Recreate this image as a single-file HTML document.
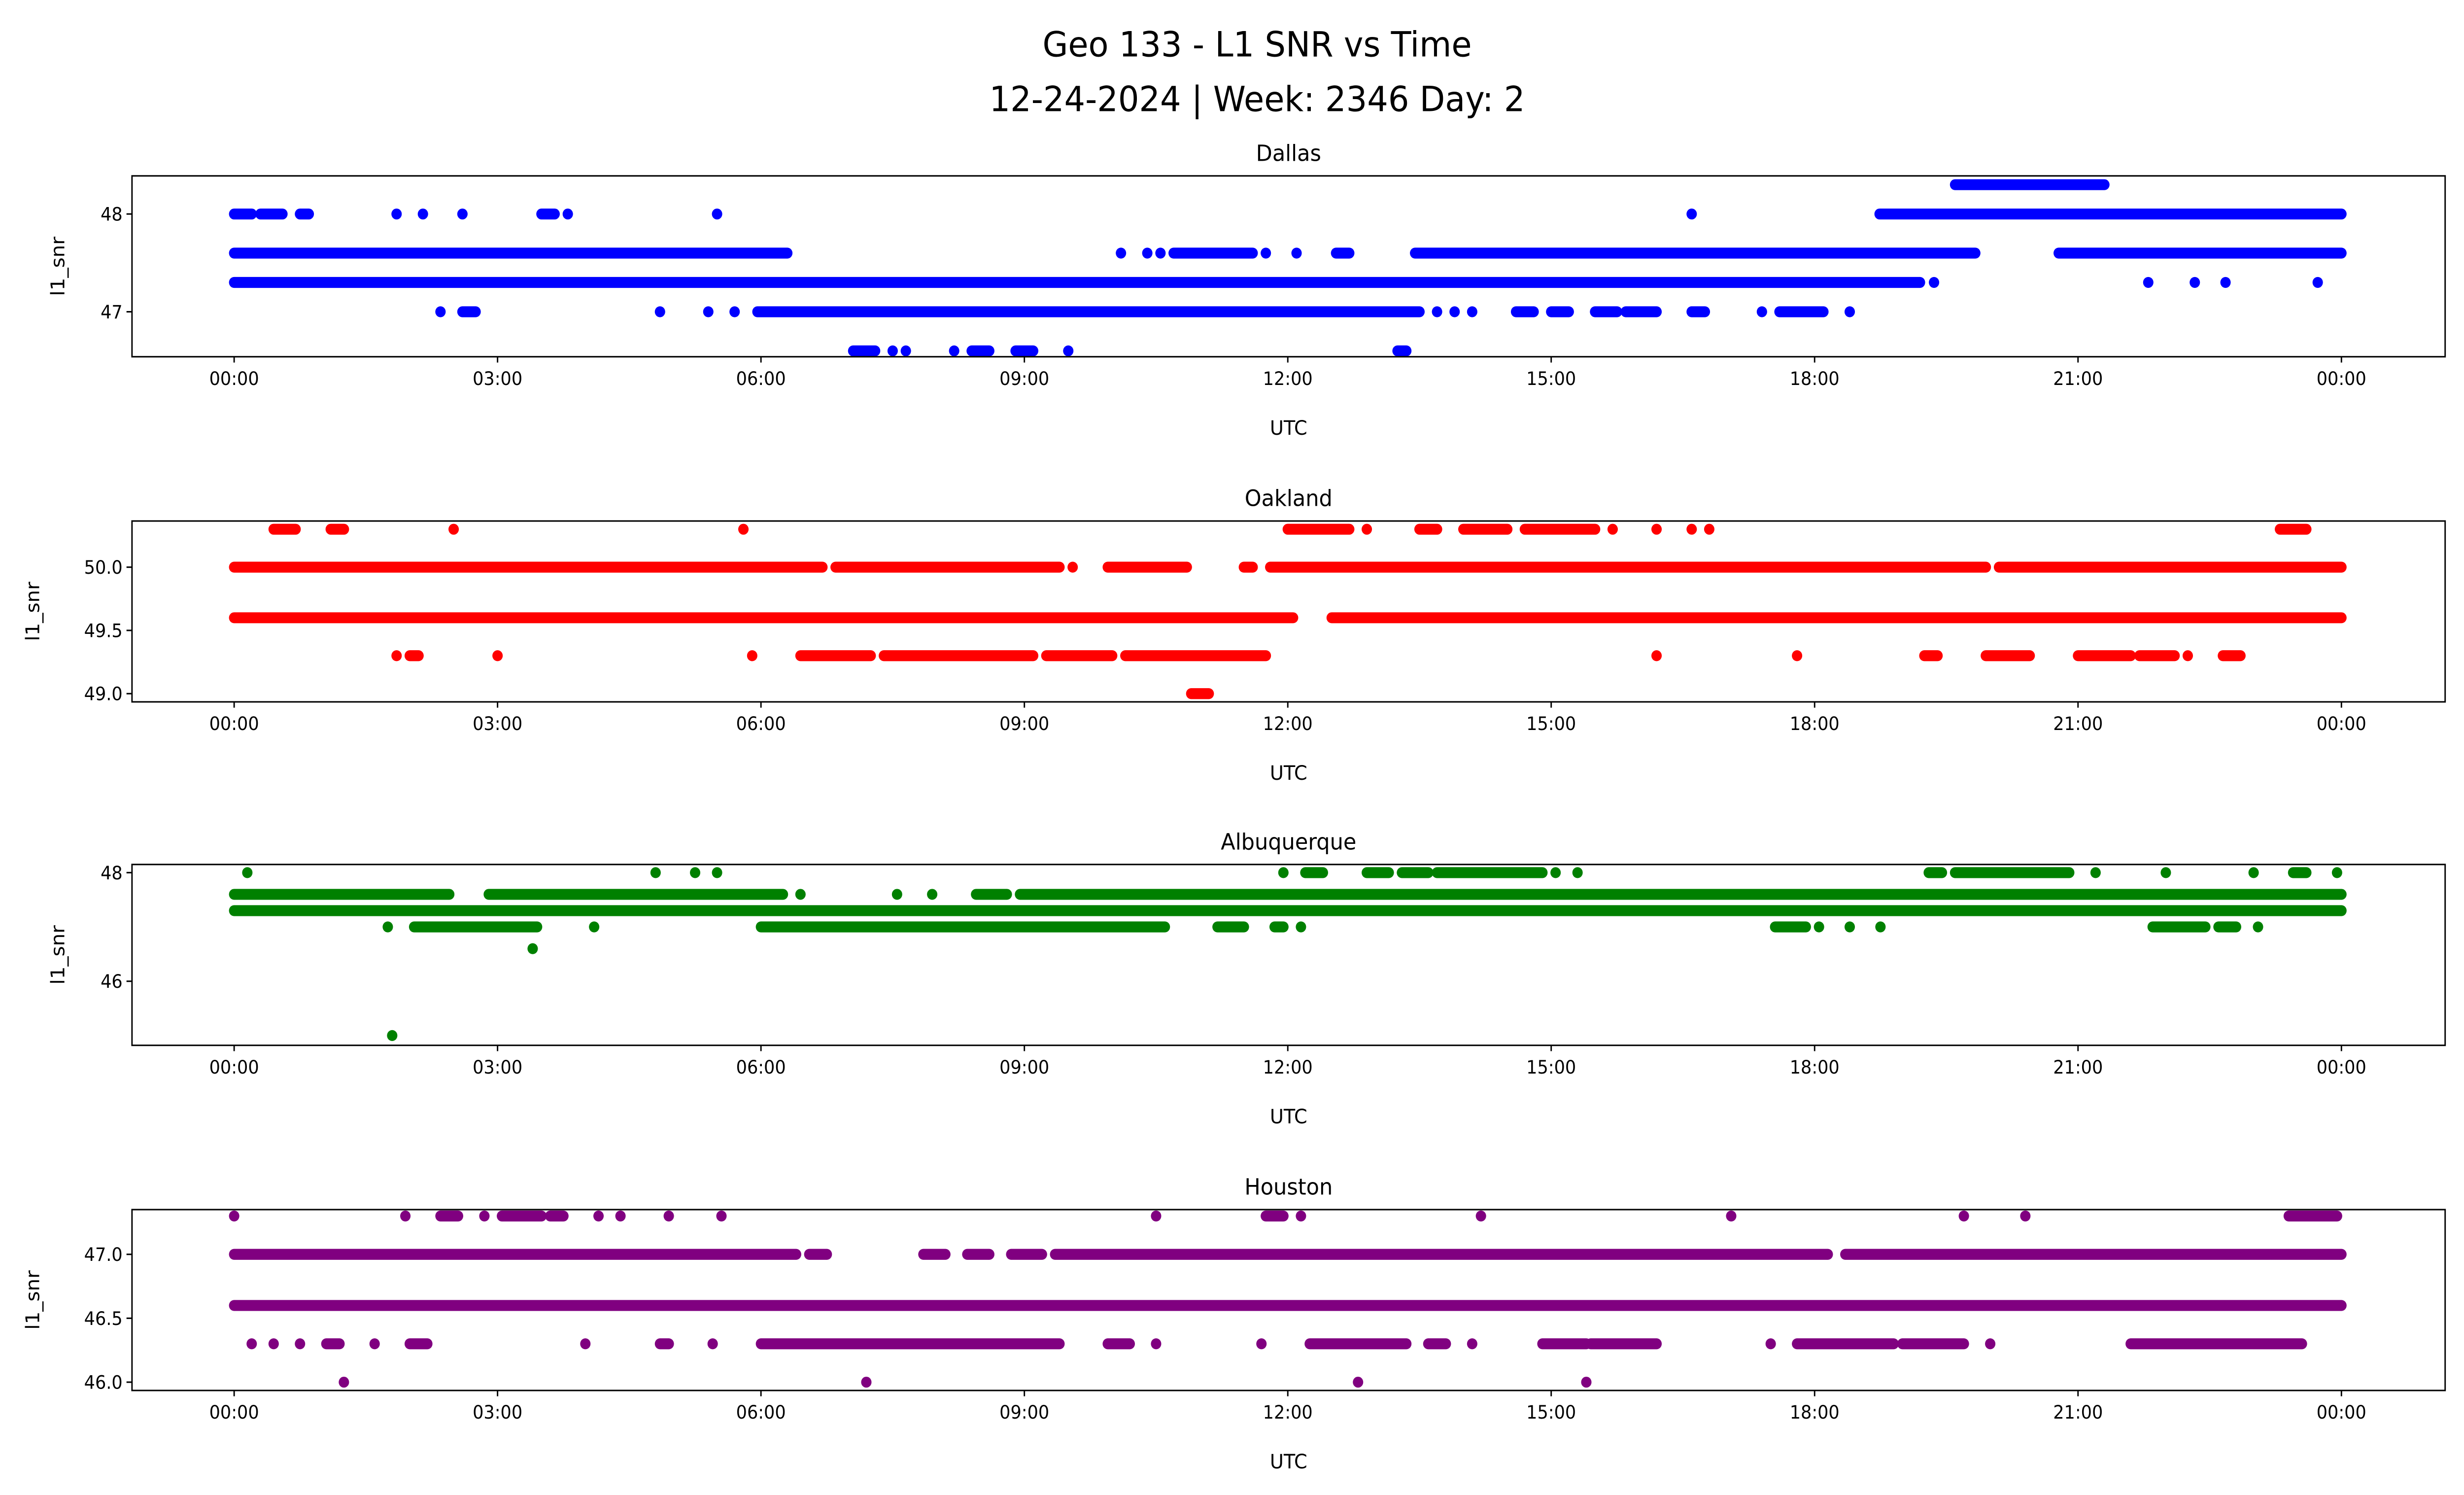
<!DOCTYPE html>
<html><head><meta charset="utf-8"><style>
html,body{margin:0;padding:0;background:#fff;width:100%;height:100%;overflow:hidden}
svg{display:block;width:100vw;height:100vh}
text{font-family:"DejaVu Sans","Liberation Sans",sans-serif;fill:#000}
</style></head><body>
<svg id="chart" viewBox="0 0 1568 901" preserveAspectRatio="none" xmlns="http://www.w3.org/2000/svg">
<text x="800" y="34" font-size="21" text-anchor="middle">Geo 133 - L1 SNR vs Time</text>
<text x="800" y="67" font-size="21" text-anchor="middle">12-24-2024 | Week: 2346 Day: 2</text>
</svg>
<script>
// x tick labels (hours)
const xTickHours = [0,3,6,9,12,15,18,21,24];
const xTickLabels = ["00:00","03:00","06:00","09:00","12:00","15:00","18:00","21:00","00:00"];
// station names and colours
const stations = ["Dallas","Oakland","Albuquerque","Houston"];
const colors = ["#0000ff","#ff0000","#008000","#800080"];
const yTicks = [[47,48],[49.0,49.5,50.0],[46,48],[46.0,46.5,47.0]];
const yTickLabels = [["47","48"],["49.0","49.5","50.0"],["46","48"],["46.0","46.5","47.0"]];
const yRanges = [[46.54,48.39],[48.935,50.365],[44.82,48.15],[45.935,47.35]];
// dense runs: [level, startHour, endHour]
const dallasRuns = [[47.6,0,6.3],[47.6,10.7,11.6],[47.6,12.55,12.7],[47.6,13.45,19.83],[47.6,20.78,24],[47.3,0,19.2],[48.0,0,0.2],[48.0,0.3,0.55],[48.0,0.75,0.85],[48.0,3.5,3.65],[48.0,18.74,24],[48.3,19.6,21.3],[47.0,2.6,2.75],[47.0,5.96,13.5],[47.0,14.6,14.8],[47.0,15.0,15.2],[47.0,15.5,15.75],[47.0,15.85,16.2],[47.0,16.6,16.75],[47.0,17.6,18.1],[46.6,7.05,7.3],[46.6,8.4,8.6],[46.6,8.9,9.1],[46.6,13.25,13.35]];
const dallasPts = [[47.6,10.1],[47.6,10.4],[47.6,10.55],[47.6,11.75],[47.6,12.1],[47.3,19.36],[47.3,21.8],[47.3,22.33],[47.3,22.68],[47.3,23.73],[48.0,1.85],[48.0,2.15],[48.0,2.6],[48.0,3.8],[48.0,5.5],[48.0,16.6],[47.0,2.35],[47.0,4.85],[47.0,5.4],[47.0,5.7],[47.0,13.7],[47.0,13.9],[47.0,14.1],[47.0,17.4],[47.0,18.4],[46.6,7.5],[46.6,7.65],[46.6,8.2],[46.6,9.5]];
const oaklandRuns = [[50.0,0,6.7],[50.0,6.85,9.4],[50.0,9.95,10.85],[50.0,11.5,11.6],[50.0,11.8,19.95],[50.0,20.1,24],[49.6,0,12.06],[49.6,12.5,24],[50.3,0.45,0.7],[50.3,1.1,1.25],[50.3,12.0,12.7],[50.3,13.5,13.7],[50.3,14.0,14.5],[50.3,14.7,15.5],[50.3,23.3,23.6],[49.3,2.0,2.1],[49.3,6.45,7.25],[49.3,7.4,9.1],[49.3,9.25,10.0],[49.3,10.15,11.75],[49.3,19.25,19.4],[49.3,19.95,20.45],[49.3,21.0,21.6],[49.3,21.7,22.1],[49.3,22.65,22.85],[49.0,10.9,11.1]];
const oaklandPts = [[50.0,9.55],[50.3,2.5],[50.3,5.8],[50.3,12.9],[50.3,15.7],[50.3,16.2],[50.3,16.6],[50.3,16.8],[49.3,1.85],[49.3,3.0],[49.3,5.9],[49.3,16.2],[49.3,17.8],[49.3,22.25]];
const albuqRuns = [[47.6,0,2.45],[47.6,2.9,6.25],[47.6,8.45,8.8],[47.6,8.95,24],[47.3,0,24],[48.0,12.2,12.4],[48.0,12.9,13.15],[48.0,13.3,13.6],[48.0,13.7,14.9],[48.0,19.3,19.45],[48.0,19.6,20.9],[48.0,23.45,23.6],[47.0,2.05,3.45],[47.0,6.0,10.6],[47.0,11.2,11.5],[47.0,11.85,11.95],[47.0,17.55,17.9],[47.0,21.85,22.45],[47.0,22.6,22.8]];
const albuqPts = [[47.6,6.45],[47.6,7.55],[47.6,7.95],[48.0,0.15],[48.0,4.8],[48.0,5.25],[48.0,5.5],[48.0,11.95],[48.0,15.05],[48.0,15.3],[48.0,21.2],[48.0,22.0],[48.0,23.0],[48.0,23.95],[47.0,1.75],[47.0,4.1],[47.0,12.15],[47.0,18.05],[47.0,18.4],[47.0,18.75],[47.0,23.05],[46.6,3.4],[45.0,1.8]];
const houstonRuns = [[46.6,0,24],[47.0,0,6.4],[47.0,6.55,6.75],[47.0,7.85,8.1],[47.0,8.35,8.6],[47.0,8.85,9.2],[47.0,9.35,18.15],[47.0,18.35,24],[47.3,2.35,2.55],[47.3,3.05,3.5],[47.3,3.6,3.75],[47.3,11.75,11.95],[47.3,23.4,23.95],[46.3,1.05,1.2],[46.3,2.0,2.2],[46.3,4.85,4.95],[46.3,6.0,9.4],[46.3,9.95,10.2],[46.3,12.25,13.35],[46.3,13.6,13.8],[46.3,14.9,15.4],[46.3,15.45,16.2],[46.3,17.8,18.9],[46.3,19.0,19.7],[46.3,21.6,23.55]];
const houstonPts = [[47.3,0],[47.3,1.95],[47.3,2.85],[47.3,4.15],[47.3,4.4],[47.3,4.95],[47.3,5.55],[47.3,10.5],[47.3,12.15],[47.3,14.2],[47.3,17.05],[47.3,19.7],[47.3,20.4],[46.3,0.2],[46.3,0.45],[46.3,0.75],[46.3,1.6],[46.3,4.0],[46.3,5.45],[46.3,10.5],[46.3,11.7],[46.3,14.1],[46.3,17.5],[46.3,20.0],[46.0,1.25],[46.0,7.2],[46.0,12.8],[46.0,15.4]];
const allRuns = [dallasRuns, oaklandRuns, albuqRuns, houstonRuns];
const allPts = [dallasPts, oaklandPts, albuqPts, houstonPts];

const NS = "http://www.w3.org/2000/svg";
const svg = document.getElementById("chart");
const L = 84, R = 1556, X0 = 149, X1 = 1490;
const tops = [106, 314, 521, 729], H = 109;
function xScale(h){ return X0 + (X1 - X0) * h / 24; }
function mk(tag, attrs, parent){ const e = document.createElementNS(NS, tag); for (const k in attrs) e.setAttribute(k, attrs[k]); (parent||svg).appendChild(e); return e; }

stations.forEach((name, i) => {
  const top = tops[i], bot = top + H;
  const [y0, y1] = yRanges[i];
  const yScale = v => bot - (v - y0) / (y1 - y0) * H;
  const g = mk("g", {});
  
  
  const t = mk("text", {x: (L+R)/2, y: top - 9, "font-size": 13.5, "text-anchor": "middle"}, g);
  t.textContent = name;
  
  
  const c = colors[i];
  allRuns[i].forEach(r => {
    const ln = mk("line", {x1: xScale(r[1]), x2: xScale(r[2]), y1: yScale(r[0]), y2: yScale(r[0]), stroke: c, "stroke-width": 6.6, "stroke-linecap": "round"}, g);
    
    
  });
  allPts[i].forEach(p => {
    const ci = mk("circle", {cx: xScale(p[1]), cy: yScale(p[0]), r: 3.3, fill: c}, g);
    
    
  });
  const fr = mk("rect", {x: L, y: top, width: R - L, height: H, fill: "none", stroke: "#000", "stroke-width": 0.9}, g);
  
  
  xTickHours.forEach((h, k) => {
    mk("line", {x1: xScale(h), x2: xScale(h), y1: bot, y2: bot + 3.5, stroke: "#000", "stroke-width": 0.9}, g);
    const tl = mk("text", {x: xScale(h), y: bot + 17, "font-size": 11, "text-anchor": "middle"}, g);
    tl.textContent = xTickLabels[k];
    
    
  });
  yTicks[i].forEach((v, k) => {
    const y = yScale(v);
    mk("line", {x1: L - 3.5, x2: L, y1: y, y2: y, stroke: "#000", "stroke-width": 0.9}, g);
    const tl = mk("text", {x: L - 6, y: y + 4, "font-size": 11, "text-anchor": "end"}, g);
    tl.textContent = yTickLabels[i][k];
    
    
  });
  const xl = mk("text", {x: (L+R)/2, y: bot + 47, "font-size": 12, "text-anchor": "middle"}, g);
  xl.textContent = "UTC";
  
  
  const yx = (i === 0 || i === 2) ? 41 : 25;
  const yl = mk("text", {x: yx, y: top + H/2, "font-size": 12, "text-anchor": "middle", transform: `rotate(-90 ${yx} ${top + H/2})`}, g);
  yl.textContent = "l1_snr";
  
  
});
</script>
</body></html>
